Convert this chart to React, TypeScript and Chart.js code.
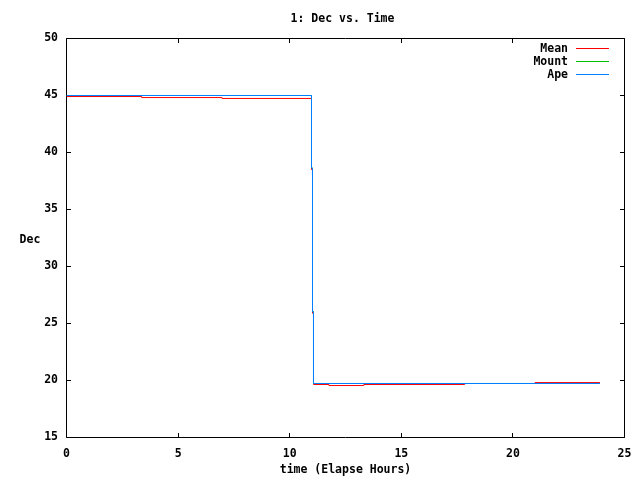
import React, { useEffect, useRef } from "react";
import { Chart, registerables } from "chart.js";

Chart.register(...registerables);

// ---- data ----
const titleText = "1: Dec vs. Time";
const xTitle = "time (Elapse Hours)";
const yTitle = "Dec";
const seriesNames = ["Mean", "Mount", "Ape"];
const seriesColors = ["#ff0000", "#00c000", "#0080ff"];

// step start times (hours) and Dec values held from that time
const meanTime = [0, 3.37, 6.97, 10.977, 11.022, 11.066, 11.76, 13.32, 17.84, 20.99, 23.9];
const meanDec = [44.91, 44.82, 44.74, 38.5, 25.9, 19.65, 19.56, 19.65, 19.737, 19.82, 19.82];

const mountTime = [0, 10.977, 11.022, 11.066, 23.9];
const mountDec = [45.0, 38.64, 26.04, 19.737, 19.737];

const apeTime = [0, 10.977, 11.022, 11.066, 23.9];
const apeDec = [45.0, 38.64, 26.04, 19.737, 19.737];

const xMin = 0;
const xMax = 25;
const xStep = 5;
const yMin = 15;
const yMax = 50;
const yStep = 5;

const FONT_FAMILY = '"DejaVu Sans Mono", "Liberation Mono", monospace';
const FONT_SIZE = 11.5;
const FONT = `bold ${FONT_SIZE}px ${FONT_FAMILY}`;

const toPoints = (t: number[], v: number[]) => t.map((x, i) => ({ x, y: v[i] }));

const framePlugin = {
  id: "gnuplotFrame",
  beforeDatasetsDraw(chart: any) {
    const { ctx, chartArea } = chart;
    const { left, right, top, bottom } = chartArea;
    const xs = chart.scales.x;
    const ys = chart.scales.y;
    ctx.save();
    ctx.strokeStyle = "#000";
    ctx.lineWidth = 1;
    ctx.beginPath();
    ctx.rect(left, top, right - left, bottom - top);
    ctx.stroke();
    const tl = 4.5;
    ctx.beginPath();
    for (let v = xMin; v <= xMax; v += xStep) {
      const px = Math.round(xs.getPixelForValue(v) - 0.5) + 0.5;
      ctx.moveTo(px, bottom);
      ctx.lineTo(px, bottom - tl);
      ctx.moveTo(px, top);
      ctx.lineTo(px, top + tl);
    }
    for (let v = yMin; v <= yMax; v += yStep) {
      const py = Math.round(ys.getPixelForValue(v) - 0.5) + 0.5;
      ctx.moveTo(left, py);
      ctx.lineTo(left + tl, py);
      ctx.moveTo(right, py);
      ctx.lineTo(right - tl, py);
    }
    ctx.stroke();
    ctx.restore();
  },
  afterDraw(chart: any) {
    const { ctx, chartArea } = chart;
    ctx.save();
    ctx.font = FONT;
    ctx.fillStyle = "#000";
    ctx.textBaseline = "middle";
    // title
    ctx.textAlign = "center";
    ctx.fillText(titleText, (chartArea.left + chartArea.right) / 2 - 3, 19.5);
    // y label (horizontal, as in the reference)
    ctx.fillText(yTitle, 30, 240);
    // legend
    const rowY = [48.5, 61.5, 74.5];
    seriesNames.forEach((name, i) => {
      ctx.textAlign = "right";
      ctx.fillStyle = "#000";
      ctx.fillText(name, 568, rowY[i] + 1);
      ctx.strokeStyle = seriesColors[i];
      ctx.lineWidth = 1;
      ctx.beginPath();
      ctx.moveTo(576, rowY[i]);
      ctx.lineTo(609, rowY[i]);
      ctx.stroke();
    });
    ctx.restore();
  },
};

export default function App() {
  const canvasRef = useRef<HTMLCanvasElement | null>(null);

  useEffect(() => {
    if (!canvasRef.current) return;
    const common = {
      borderWidth: 1,
      pointRadius: 0,
      pointHoverRadius: 0,
      stepped: true,
      fill: false,
      tension: 0,
      borderCapStyle: "butt",
    };
    const chart = new Chart(canvasRef.current, {
      type: "line",
      data: {
        datasets: [
          { ...common, label: seriesNames[2], data: toPoints(apeTime, apeDec), borderColor: seriesColors[2] },
          { ...common, label: seriesNames[1], data: toPoints(mountTime, mountDec), borderColor: seriesColors[1] },
          { ...common, label: seriesNames[0], data: toPoints(meanTime, meanDec), borderColor: seriesColors[0] },
        ] as any,
      },
      options: {
        responsive: false,
        animation: false,
        events: [],
        layout: { padding: { left: 0, top: 38.5, right: 15.5, bottom: 0 } },
        plugins: {
          legend: { display: false },
          tooltip: { enabled: false },
          title: { display: false },
        },
        scales: {
          x: {
            type: "linear",
            min: xMin,
            max: xMax,
            grid: { display: false },
            border: { display: false },
            ticks: {
              stepSize: xStep,
              color: "#000",
              font: { family: FONT_FAMILY, size: FONT_SIZE, weight: "bold" },
              padding: 1.5,
              maxRotation: 0,
              autoSkip: false,
            },
            title: {
              display: true,
              text: xTitle,
              color: "#000",
              font: { family: FONT_FAMILY, size: FONT_SIZE, weight: "bold" },
              padding: { top: 0, bottom: 3 },
            },
            afterFit: (scale: any) => {
              scale.height = 42.5;
            },
          },
          y: {
            type: "linear",
            min: yMin,
            max: yMax,
            grid: { display: false },
            border: { display: false },
            ticks: {
              stepSize: yStep,
              color: "#000",
              font: { family: FONT_FAMILY, size: FONT_SIZE, weight: "bold" },
              padding: 0.5,
              autoSkip: false,
            },
            afterFit: (scale: any) => {
              scale.width = 66.5;
            },
          },
        },
      } as any,
      plugins: [framePlugin],
    });
    return () => chart.destroy();
  }, []);

  return (
    <div style={{ position: "absolute", left: 0, top: 0, width: 640, height: 480, background: "#fff" }}>
      <canvas ref={canvasRef} width={640} height={480} style={{ display: "block" }} />
    </div>
  );
}
